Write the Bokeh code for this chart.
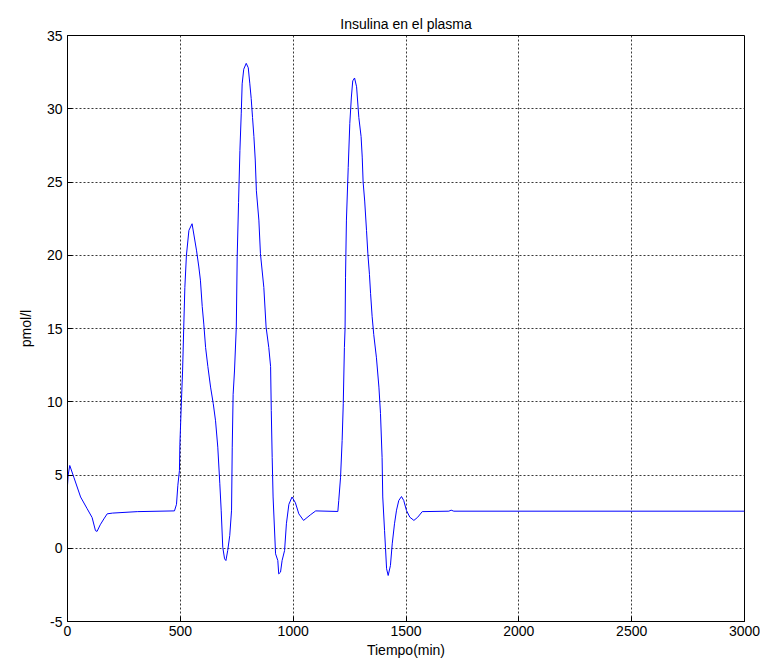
from bokeh.plotting import figure
from bokeh.models import Range1d, FixedTicker, CustomJSTickFormatter
from bokeh.embed import file_html
from bokeh.resources import INLINE

# Data
tiempo = [0, 3, 10, 28, 58, 87, 109, 124, 131, 145, 161, 176, 200, 309,
          474, 483, 489, 496, 498, 505, 510, 515, 520, 527, 538, 552,
          572, 582, 589, 597, 604, 612, 622, 634, 646, 656, 666, 675, 681, 688,
          696, 702, 710, 719, 727, 730, 734, 740, 748, 752, 758, 764, 770, 774,
          781, 792, 801, 808, 814, 820, 826, 832, 837, 848, 855, 870, 880, 892,
          900, 903, 907, 911, 922, 932, 936, 944, 951, 962, 970, 981, 995,
          1010, 1025, 1046, 1078, 1100, 1198, 1202, 1210, 1217, 1222, 1227,
          1230, 1232, 1236, 1244, 1251, 1258, 1264, 1272, 1281, 1291, 1301,
          1306, 1310, 1317, 1325, 1331, 1338, 1343, 1350, 1357, 1369, 1380,
          1387, 1394, 1397, 1405, 1409, 1414, 1421, 1431, 1439, 1449, 1458,
          1468, 1480, 1490, 1502, 1517, 1535, 1552, 1572, 1690, 1700, 1712, 3000]
insulina = [4.3, 5.0, 5.65, 4.85, 3.5, 2.7, 2.1, 1.2, 1.15, 1.6, 2.0, 2.35, 2.4, 2.5,
            2.55, 3.0, 4.3, 5.3, 7.1, 10.1, 12.1, 15.0, 17.8, 20.0, 21.7, 22.15,
            20.3, 19.2, 18.3, 16.5, 15.3, 13.7, 12.4, 11.0, 9.86, 8.7, 6.9, 4.4, 2.6, 0.07,
            -0.72, -0.84, -0.15, 0.87, 2.6, 6.9, 10.5, 12.1, 15.1, 19.9, 23.6, 27.15, 29.7, 31.7,
            32.7, 33.1, 32.8, 31.7, 30.7, 29.4, 28.1, 26.5, 24.4, 22.4, 20.1, 17.8, 15.1, 13.7,
            12.4, 9.4, 6.2, 3.5, -0.38, -0.84, -1.75, -1.63, -0.84, -0.15, 1.67, 3.0, 3.5,
            3.1, 2.35, 1.9, 2.3, 2.55, 2.51, 3.26, 4.85, 7.35, 9.86, 13.7,
            15.0, 18.5, 22.4, 26.0, 29.0, 30.8, 31.9, 32.1, 31.5, 29.4, 28.1,
            26.7, 25.0, 23.7, 21.7, 20.1, 18.7, 17.4, 15.8, 14.6, 13.0, 11.0,
            9.2, 6.2, 3.5, 1.2, 0.07, -1.4, -1.86, -1.18, 0.3, 1.67, 2.6,
            3.26, 3.53, 3.26, 2.58, 2.12, 1.9, 2.12, 2.5, 2.53, 2.6, 2.53, 2.53]
assert len(tiempo) == len(insulina)

x_ticks = [0, 500, 1000, 1500, 2000, 2500, 3000]
y_ticks = [-5, 0, 5, 10, 15, 20, 25, 30, 35]

FONT = "Liberation Sans"

p = figure(width=760, height=660, output_backend="svg", toolbar_location=None,
           x_range=Range1d(0, 3000), y_range=Range1d(-5, 35),
           title="Insulina en el plasma",
           min_border_left=67, min_border_right=16, min_border_top=35, min_border_bottom=39)

p.line(tiempo, insulina, line_color="#0000ff", line_width=1)

p.title.align = "center"
p.title.vertical_align = "top"
p.title.text_font = FONT
p.title.text_font_size = "14px"
p.title.text_font_style = "normal"
p.title.text_color = "black"
p.title.offset = 0
p.title.standoff = 4

p.outline_line_color = "black"
p.outline_line_width = 1
p.outline_line_alpha = 1
p.background_fill_color = "white"
p.border_fill_color = "white"

p.xaxis.ticker = FixedTicker(ticks=x_ticks)
p.yaxis.ticker = FixedTicker(ticks=y_ticks)
p.xaxis.axis_label = "Tiempo(min)"
p.yaxis.axis_label = "pmol/l"

fmt = CustomJSTickFormatter(code="return String(tick);")
for ax in (p.xaxis, p.yaxis):
    ax.formatter = fmt
    ax.axis_line_color = "black"
    ax.major_tick_line_color = "black"
    ax.major_tick_in = 5
    ax.major_tick_out = 0
    ax.minor_tick_line_color = None
    ax.major_label_text_font = FONT
    ax.major_label_text_font_size = "14px"
    ax.major_label_text_color = "black"
    ax.axis_label_text_font = FONT
    ax.axis_label_text_font_size = "14px"
    ax.axis_label_text_font_style = "normal"
    ax.axis_label_text_color = "black"

p.xaxis.major_label_standoff = 4
p.xaxis.axis_label_standoff = 3
p.yaxis.major_label_standoff = 5
p.yaxis.axis_label_standoff = 10

for g in (p.xgrid, p.ygrid):
    g.grid_line_color = "#222222"
    g.grid_line_dash = "2 2"
    g.grid_line_width = 1
    g.grid_line_alpha = 0.9

open("out.html", "w").write(file_html(p, INLINE))
